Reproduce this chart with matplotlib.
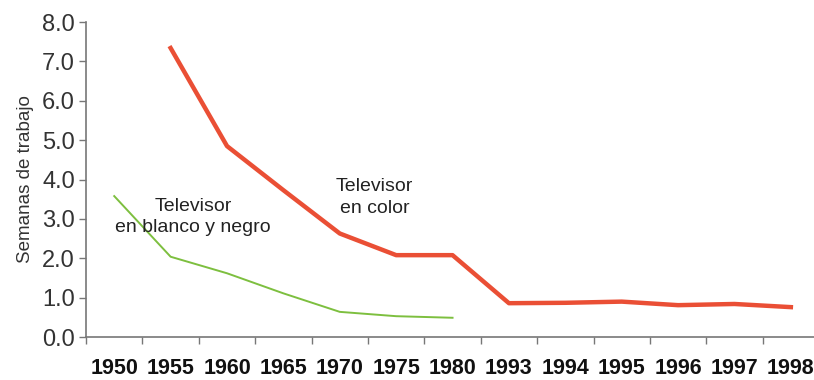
import matplotlib
matplotlib.use('Agg')
import matplotlib.pyplot as plt
import numpy as np

plt.rcParams['font.family'] = ['Liberation Sans', 'DejaVu Sans']

# años (categorías) y semanas de trabajo
years = ['1950', '1955', '1960', '1965', '1970', '1975', '1980',
         '1993', '1994', '1995', '1996', '1997', '1998']
color_tv = [None, 7.34, 4.85, 3.73, 2.63, 2.08, 2.08,
            0.86, 0.87, 0.90, 0.81, 0.84, 0.76]
bn_tv = [3.58, 2.04, 1.62, 1.11, 0.64, 0.53, 0.49,
         None, None, None, None, None, None]

x = np.arange(len(years))
red = np.array([np.nan if v is None else v for v in color_tv])
green = np.array([np.nan if v is None else v for v in bn_tv])

fig = plt.figure(figsize=(8.14, 3.8), dpi=100)
ax = fig.add_axes([0.1057, 0.113, 0.9005, 0.829])

ax.plot(x, green, color='#7dbf3f', lw=1.4, solid_joinstyle='round')
ax.plot(x, red, color='#ea4f35', lw=3.2, solid_joinstyle='round')

ax.text(1.40, 3.05, 'Televisor\nen blanco y negro', ha='center', va='center',
        fontsize=14, color='#222222', linespacing=1.35)
ax.text(4.62, 3.55, 'Televisor\nen color', ha='center', va='center',
        fontsize=14, color='#222222', linespacing=1.35)

ax.set_xlim(-0.5, 12.5)
ax.set_ylim(0, 8)
ax.set_yticks(np.arange(0, 8.1, 1.0))
ax.set_yticklabels(['%.1f' % v for v in np.arange(0, 8.1, 1.0)])
ax.set_xticks(x)
ax.set_xticklabels(years, fontweight='bold', fontsize=15.5, color='#111111')
ax.set_xticks(np.arange(-0.5, 12.5, 1.0), minor=True)
ax.tick_params(axis='x', which='major', length=0, pad=15)
ax.tick_params(axis='x', which='minor', length=5, color='#777777', width=1)
ax.tick_params(axis='y', length=5, color='#777777', width=1,
               labelsize=17, labelcolor='#333333', pad=3)

for s in ['top', 'right']:
    ax.spines[s].set_visible(False)
for s in ['left', 'bottom']:
    ax.spines[s].set_color('#777777')
    ax.spines[s].set_linewidth(1.2)

ax.set_ylabel('Semanas de trabajo', fontsize=13.5, color='#333333', labelpad=6)

fig.savefig('out.png', dpi=100)
